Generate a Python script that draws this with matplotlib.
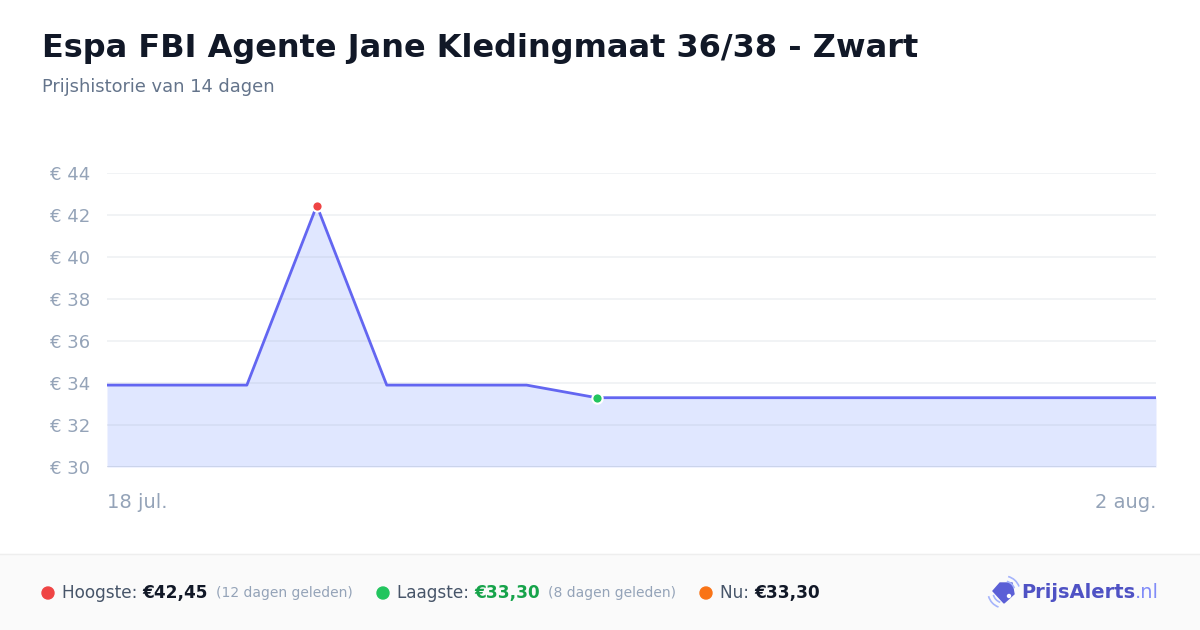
import numpy as np
import matplotlib as mpl
mpl.use('Agg')
import matplotlib.pyplot as plt
from matplotlib.patches import Rectangle, Polygon, Arc, Circle

### price history (day offset from 18 jul.)
days = [0, 2, 3, 4, 6, 7, 15]
prices = [33.90, 33.90, 42.45, 33.90, 33.90, 33.30, 33.30]
yticks = [30, 32, 34, 36, 38, 40, 42, 44]
xlabels = ['18 jul.', '2 aug.']
title = 'Espa FBI Agente Jane Kledingmaat 36/38 - Zwart'
subtitle = 'Prijshistorie van 14 dagen'
hi_idx = 2
lo_idx = 5

W, H = 1200, 630
fig = plt.figure(figsize=(W/100, H/100), dpi=100)
fig.patch.set_facecolor('white')

def px(x, y):
    return x / W, 1 - y / H

ax = fig.add_axes([107/W, 163/H, (1156-107)/W, (467-173)/H])
ax.set_xlim(0, 15)
ax.set_ylim(30, 44)
for s in ax.spines.values():
    s.set_visible(False)
ax.set_yticks(yticks)
ax.set_yticklabels(['€ %d' % v for v in yticks])
ax.tick_params(axis='y', length=0, pad=12, labelsize=13, labelcolor='#94a3b8')
ax.set_xticks([])
for v in yticks:
    ax.axhline(v, color='#94a3b8', alpha=0.3 if v == 30 else 0.14, lw=1.3, zorder=1.5)

ax.fill_between(days, prices, 30, color='#e0e7ff', lw=0, zorder=1)
ax.plot(days, prices, color='#6366f1', lw=2, zorder=2)
ax.scatter([days[hi_idx]], [prices[hi_idx]], s=55, color='#ef4444', edgecolor='white', lw=1.5, zorder=3)
ax.scatter([days[lo_idx]], [prices[lo_idx]], s=55, color='#22c55e', edgecolor='white', lw=1.5, zorder=3)

fig.text(*px(107, 503), xlabels[0], ha='left', va='center', fontsize=14, color='#94a3b8')
fig.text(*px(1156, 503), xlabels[1], ha='right', va='center', fontsize=14, color='#94a3b8')

fig.text(*px(42, 48), title, ha='left', va='center', fontsize=23, fontweight='bold', color='#111827')
fig.text(*px(42, 87), subtitle, ha='left', va='center', fontsize=12.9, color='#64748b')

### footer
fig.patches.append(Rectangle((0, 0), 1, 76/H, transform=fig.transFigure, color='#fafafa', zorder=0))
fig.lines.append(plt.Line2D([0, 1], [76/H, 76/H], transform=fig.transFigure, color='#eeeeee', lw=1))

renderer = fig.canvas.get_renderer()
yf = 593

def put(x, s, **kw):
    t = fig.text(*px(x, yf), s, ha='left', va='center', **kw)
    bb = t.get_window_extent(renderer)
    return x + bb.width

def dot(x, c):
    fig.patches.append(Circle((x/100, (H-yf)/100), 0.06, transform=fig.dpi_scale_trans, color=c))

dot(48, '#ef4444')
x = put(62, 'Hoogste: ', fontsize=12.2, color='#475569')
x = put(x, '€42,45', fontsize=12.2, fontweight='bold', color='#111827')
x = put(x + 8, '(12 dagen geleden)', fontsize=10, color='#94a3b8')
dot(383, '#22c55e')
x = put(397, 'Laagste: ', fontsize=12.2, color='#475569')
x = put(x, '€33,30', fontsize=12.2, fontweight='bold', color='#16a34a')
x = put(x + 8, '(8 dagen geleden)', fontsize=10, color='#94a3b8')
dot(706, '#f97316')
x = put(720, 'Nu: ', fontsize=12.2, color='#475569')
x = put(x, '€33,30', fontsize=12.2, fontweight='bold', color='#111827')

### logo
tag = [(993, 591), (1000, 583), (1012, 583), (1014, 594), (1004, 603)]
fig.patches.append(Polygon([px(a, b) for a, b in tag], closed=True, transform=fig.transFigure, color='#5b5fd6'))
fig.patches.append(Circle((1009/100, (H-596)/100), 0.015, transform=fig.dpi_scale_trans, color='white'))
for r in [11, 16]:
    for t1, t2 in [(195, 250), (20, 75)]:
        fig.patches.append(Arc((1004/100, (H-592)/100), 2*r/100, 2*r/100, theta1=t1, theta2=t2,
                               transform=fig.dpi_scale_trans, color='#a5b4fc', lw=1.2))
x = put(1021, 'PrijsAlerts', fontsize=14, fontweight='bold', color='#4f52c4')
put(x, '.nl', fontsize=14, color='#818cf8')

fig.savefig('out.png', dpi=100)
